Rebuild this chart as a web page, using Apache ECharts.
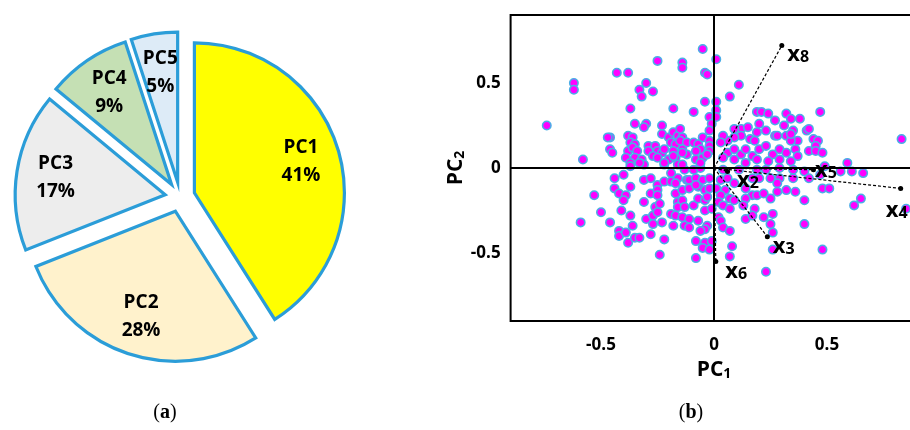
<!DOCTYPE html>
<html><head><meta charset="utf-8">
<script src="https://cdn.jsdelivr.net/npm/echarts@6/dist/echarts.min.js"></script>
<style>html,body{margin:0;padding:0;background:#fff}#c{width:910px;height:430px}</style>
</head><body><div id="c"></div>
<script>
// ---- data ----
const pieNames = ['PC1', 'PC2', 'PC3', 'PC4', 'PC5'];
const pieValues = [41, 28, 17, 9, 5];

const pcX = [-0.25,-0.43,-0.38,-0.62,-0.62,-0.30,-0.33,-0.27,-0.32,-0.37,-0.18,-0.74,-0.35,-0.30,-0.31,-0.23,-0.46,-0.38,-0.36,-0.23,-0.20,-0.18,-0.16,-0.37,-0.35,-0.46,-0.45,-0.38,-0.36,-0.34,-0.29,-0.26,-0.29,-0.25,-0.23,-0.22,-0.19,-0.17,-0.18,-0.39,-0.35,-0.32,-0.37,-0.58,-0.31,-0.27,-0.25,-0.22,-0.20,-0.17,-0.16,
-0.05,0.01,-0.14,-0.14,-0.04,-0.03,0.11,0.07,-0.04,0.01,-0.09,-0.02,-0.01,-0.02,0.01,0.01,
0.19,0.21,0.24,0.27,0.32,0.34,0.47,0.20,0.12,0.09,0.15,0.19,0.23,0.27,0.28,0.32,0.35,0.41,0.44,0.46,0.37,0.34,
0.16,0.18,0.12,0.09,0.06,0.04,0.03,-0.15,-0.14,-0.15,-0.12,-0.09,-0.07,-0.05,-0.02,-0.02,-0.06,-0.02,
0.06,0.09,0.12,0.14,0.17,0.20,0.23,0.26,0.29,0.32,0.36,0.37,0.42,0.45,0.19,0.24,0.29,0.34,0.14,0.09,0.04,-0.12,-0.08,-0.05,-0.14,
0.38,0.42,0.31,0.34,
0.83,0.45,0.48,0.59,0.56,0.61,0.66,0.49,0.47,0.42,0.48,0.51,0.65,0.62,0.85,
-0.44,-0.40,-0.31,-0.28,-0.37,-0.53,-0.44,-0.42,-0.37,-0.39,-0.40,-0.50,-0.59,-0.46,-0.41,-0.37,-0.31,-0.28,-0.36,-0.42,-0.42,-0.39,-0.38,-0.35,-0.33,-0.28,-0.24,-0.22,-0.30,-0.27,-0.27,-0.23,-0.18,-0.26,-0.25,-0.24,-0.19,-0.17,-0.25,-0.25,-0.25,-0.22,-0.19,-0.16,-0.19,-0.17,-0.16,-0.16,
-0.12,-0.11,-0.08,-0.05,-0.02,-0.14,-0.11,-0.07,-0.04,-0.02,-0.14,-0.13,-0.09,-0.07,-0.04,-0.04,-0.01,-0.03,-0.14,-0.11,-0.13,-0.11,-0.07,-0.03,-0.04,-0.08,-0.04,-0.01,-0.05,-0.02,-0.08,
0.03,0.06,0.09,0.01,0.05,0.03,0.07,0.09,0.02,0.04,0.07,0.02,0.03,0.04,0.07,0.08,0.07,
0.14,0.17,0.19,0.22,0.25,0.14,0.13,0.18,0.14,0.17,0.22,0.26,0.25,0.26,0.26,
0.17,0.20,0.25,0.29,0.28,0.28,0.32,0.36,0.35,0.40,0.40,0.23,
-0.13,-0.09,-0.06,0.04,0.11,0.19,0.23,0.29,0.35,0.40,
-0.14,-0.08,-0.22,-0.18,-0.14,-0.06,-0.03,-0.33,-0.47,-0.17,-0.08,-0.06,0.48];
const pcY = [0.63,0.56,0.56,0.50,0.46,0.50,0.46,0.45,0.42,0.35,0.35,0.25,0.26,0.26,0.24,0.25,0.18,0.19,0.18,0.20,0.18,0.21,0.19,0.15,0.14,0.11,0.09,0.10,0.12,0.10,0.13,0.13,0.10,0.10,0.09,0.11,0.15,0.14,0.10,0.06,0.06,0.05,0.03,0.05,0.02,0.07,0.06,0.02,0.05,0.06,0.02,
0.70,0.64,0.62,0.59,0.56,0.55,0.49,0.42,0.39,0.39,0.33,0.30,0.26,0.22,0.34,0.30,
0.33,0.33,0.32,0.28,0.32,0.29,0.33,0.26,0.23,0.23,0.24,0.21,0.22,0.19,0.19,0.19,0.22,0.22,0.17,0.16,0.16,0.16,
0.17,0.16,0.19,0.18,0.16,0.19,0.15,0.23,0.18,0.16,0.15,0.15,0.14,0.18,0.16,0.13,0.11,0.10,
0.09,0.11,0.08,0.11,0.07,0.11,0.13,0.08,0.11,0.09,0.11,0.07,0.10,0.13,0.05,0.04,0.05,0.04,0.03,0.05,0.06,0.08,0.05,0.06,0.11,
0.29,0.23,0.25,0.20,
0.17,0.10,0.09,0.03,-0.02,-0.02,-0.03,0.01,-0.04,-0.06,-0.12,-0.12,-0.18,-0.22,-0.24,
-0.06,-0.04,-0.07,-0.06,0.01,-0.16,-0.12,-0.15,-0.11,-0.16,-0.19,-0.26,-0.32,-0.32,-0.25,-0.28,-0.20,-0.15,-0.34,-0.37,-0.40,-0.38,-0.44,-0.41,-0.41,-0.39,-0.51,-0.42,-0.30,-0.28,-0.33,-0.32,-0.34,-0.23,-0.26,-0.21,-0.27,-0.28,-0.10,-0.13,-0.16,-0.08,-0.08,-0.06,-0.03,-0.15,-0.20,-0.23,
-0.07,-0.07,-0.06,-0.07,-0.06,-0.13,-0.12,-0.11,-0.13,-0.12,-0.19,-0.23,-0.22,-0.18,-0.19,-0.25,-0.24,-0.17,-0.29,-0.30,-0.34,-0.35,-0.31,-0.34,-0.36,-0.43,-0.44,-0.43,-0.47,-0.48,-0.53,
-0.07,-0.06,-0.09,-0.12,-0.13,-0.16,-0.18,-0.19,-0.20,-0.22,-0.24,-0.29,-0.31,-0.35,-0.37,-0.46,-0.52,
-0.12,-0.16,-0.16,-0.15,-0.18,-0.18,-0.22,-0.24,-0.30,-0.28,-0.29,-0.27,-0.33,-0.38,-0.48,
-0.06,-0.06,-0.06,-0.06,-0.09,-0.14,-0.13,-0.14,-0.06,-0.19,-0.33,-0.61,
-0.01,-0.01,0.00,-0.01,-0.01,-0.01,-0.01,0.00,-0.01,-0.02,
0.09,0.10,0.03,0.07,0.02,0.03,0.08,0.03,0.18,-0.09,-0.10,-0.37,-0.48];

const vecNames = ['8', '5', '4', '2', '3', '6'];
const vecX = [0.30, 0.44, 0.826, 0.06, 0.236, 0.008];
const vecY = [0.72, -0.01, -0.12, -0.02, -0.404, -0.55];

const xTicks = [-0.5, 0, 0.5];
const yTicks = [-0.5, 0, 0.5];

// ---- styles ----
const pieColors = ['#FFFF00', '#FFF2CC', '#EDEDED', '#C5E0B4', '#DDEBF7'];
const vecLabelPos = {
  '8': {position: 'right', offset: [-2, 6]},
  '5': {position: 'right', offset: [-6, -2]},
  '4': {position: 'bottom', offset: [-4, -2]},
  '2': {position: 'right', offset: [2, 6]},
  '3': {position: 'right', offset: [-2, 7]},
  '6': {position: 'right', offset: [2, 7]}
};
const FONT = 'Open Sans';

const chart = echarts.init(document.getElementById('c'), null, {renderer: 'canvas'});

const pieCenter = [180, 197];
const pieData = pieNames.map((n, i) => ({
  name: n, value: pieValues[i], selected: true,
  itemStyle: {color: pieColors[i]}
}));
const pieLabelData = pieNames.map((n, i) => ({
  name: n, value: pieValues[i], selected: true
}));

const scatterData = pcX.map((x, i) => [x, pcY[i]]);

const vecSeries = vecNames.map((n, i) => ({
  type: 'line',
  xAxisIndex: 0, yAxisIndex: 0,
  z: 4,
  silent: true,
  lineStyle: {color: '#000', width: 1.2, type: [3, 2]},
  itemStyle: {color: '#000'},
  symbol: 'circle',
  data: [
    {value: [0, 0], symbolSize: 0, label: {show: false}},
    {value: [vecX[i], vecY[i]], symbolSize: 5,
      label: Object.assign({
        show: true,
        formatter: '{x|x}{s|' + n + '}',
        rich: {
          x: {fontFamily: FONT, fontWeight: 'bold', fontSize: 22, color: '#000', verticalAlign: 'bottom'},
          s: {fontFamily: FONT, fontWeight: 'bold', fontSize: 16, color: '#000', verticalAlign: 'bottom', padding: [12, 0, 0, 0]}
        }
      }, vecLabelPos[n])}
  ]
}));

const axisLabelStyle = {fontFamily: FONT, fontWeight: 'bold', fontSize: 17, color: '#000'};

chart.setOption({
  animation: false,
  backgroundColor: '#fff',
  grid: {
    left: 510.6, width: 406.8, top: 15, bottom: 109,
    outerBoundsMode: 'none', containLabel: false,
    show: true, borderColor: '#000', borderWidth: 2, backgroundColor: 'transparent'
  },
  xAxis: {
    type: 'value', min: -0.9, max: 0.9,
    axisLine: {show: false}, axisTick: {show: false}, splitLine: {show: false},
    axisLabel: Object.assign({customValues: xTicks, margin: 16}, axisLabelStyle),
    name: '{a|PC}{b|1}', nameLocation: 'middle', nameGap: 36,
    nameTextStyle: {
      rich: {
        a: {fontFamily: FONT, fontWeight: 'bold', fontSize: 21, color: '#000', verticalAlign: 'bottom'},
        b: {fontFamily: FONT, fontWeight: 'bold', fontSize: 14, color: '#000', verticalAlign: 'bottom', padding: [10, 0, 0, 0]}
      }
    }
  },
  yAxis: {
    type: 'value', min: -0.9, max: 0.9,
    axisLine: {show: false}, axisTick: {show: false}, splitLine: {show: false},
    axisLabel: Object.assign({customValues: yTicks, margin: 10}, axisLabelStyle),
    name: '{a|PC}{b|2}', nameLocation: 'middle', nameGap: 17, nameRotate: 90,
    nameTextStyle: {
      rich: {
        a: {fontFamily: FONT, fontWeight: 'bold', fontSize: 21, color: '#000', verticalAlign: 'bottom'},
        b: {fontFamily: FONT, fontWeight: 'bold', fontSize: 14, color: '#000', verticalAlign: 'bottom', padding: [10, 0, 0, 0]}
      }
    }
  },
  graphic: [
    {type: 'text', x: 165, y: 413, style: {
      text: '{p|(}{b|a}{p|)}', textAlign: 'center', textVerticalAlign: 'middle',
      rich: {p: {fontFamily: 'Liberation Serif', fontSize: 20, fill: '#000'},
             b: {fontFamily: 'Liberation Serif', fontSize: 20, fontWeight: 'bold', fill: '#000'}}
    }},
    {type: 'text', x: 691, y: 413, style: {
      text: '{p|(}{b|b}{p|)}', textAlign: 'center', textVerticalAlign: 'middle',
      rich: {p: {fontFamily: 'Liberation Serif', fontSize: 20, fill: '#000'},
             b: {fontFamily: 'Liberation Serif', fontSize: 20, fontWeight: 'bold', fill: '#000'}}
    }}
  ],
  series: [
    {
      type: 'pie', center: pieCenter, radius: 150, startAngle: 90, clockwise: true,
      selectedMode: 'multiple', selectedOffset: 15, silent: true,
      avoidLabelOverlap: false,
      label: {show: false}, labelLine: {show: false},
      itemStyle: {borderColor: '#2B9DD8', borderWidth: 3.2, borderJoin: 'miter'},
      emphasis: {disabled: true},
      data: pieData
    },
    {
      type: 'pie', center: pieCenter, radius: 216, startAngle: 90, clockwise: true,
      selectedMode: 'multiple', selectedOffset: 15, silent: true,
      avoidLabelOverlap: false,
      itemStyle: {color: 'rgba(0,0,0,0)', borderWidth: 0},
      labelLine: {show: false},
      label: {
        show: true, position: 'inside', formatter: '{b}\n{c}%',
        fontFamily: FONT, fontWeight: 'bold', fontSize: 19, lineHeight: 28, color: '#000', align: 'center'
      },
      emphasis: {disabled: true},
      data: pieLabelData
    },
    {
      type: 'scatter', xAxisIndex: 0, yAxisIndex: 0, z: 1, data: [], silent: true,
      markLine: {
        silent: true, symbol: ['none', 'none'], label: {show: false},
        lineStyle: {color: '#000', width: 2, type: 'solid'},
        data: [{xAxis: 0}, {yAxis: 0}]
      }
    },
    {
      type: 'scatter', xAxisIndex: 0, yAxisIndex: 0, z: 3, silent: true,
      symbolSize: 8.5,
      itemStyle: {color: '#FF00FF', borderColor: '#4BAEE6', borderWidth: 1.5, opacity: 1},
      data: scatterData
    }
  ].concat(vecSeries)
});
</script>
</body></html>
